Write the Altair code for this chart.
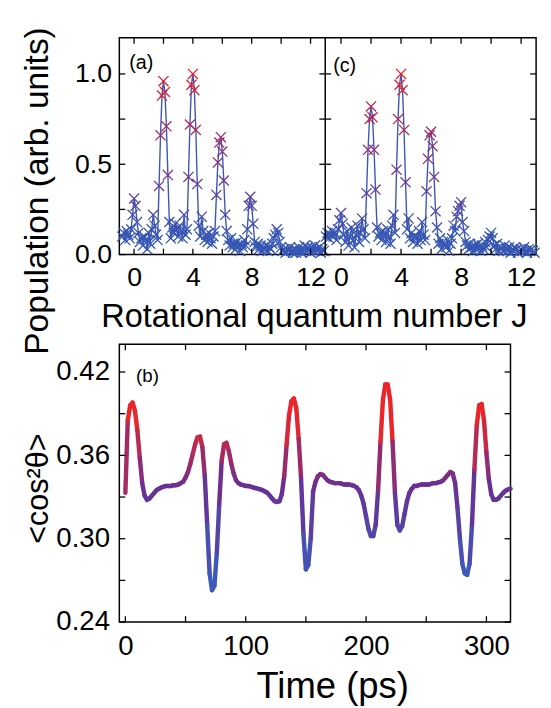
import altair as alt
import numpy as np
import pandas as pd

FONT = "Liberation Sans"

# ---------------- data ----------------
# panel (a): population vs J (sampled every 0.1 starting at J = -0.8)
J_A_START = -0.8
J_STEP = 0.1
POP_A = [
    0.10, 0.12, 0.08, 0.13, 0.11, 0.09, 0.14,
    0.22, 0.31, 0.27, 0.18, 0.12, 0.07, 0.09, 0.05, 0.10, 0.08,
    0.03, 0.12, 0.06, 0.14, 0.22, 0.16, 0.11, 0.08, 0.38, 0.66,
    0.88, 0.96, 0.90, 0.71, 0.44, 0.18, 0.09, 0.15, 0.12, 0.17,
    0.14, 0.10, 0.16, 0.13, 0.09, 0.22, 0.11, 0.14, 0.43, 0.72,
    0.94, 1.00, 0.91, 0.69, 0.39, 0.16, 0.10, 0.21, 0.13, 0.08,
    0.11, 0.07, 0.12, 0.09, 0.06, 0.10, 0.13, 0.33, 0.51, 0.62,
    0.65, 0.57, 0.41, 0.22, 0.13, 0.08, 0.05, 0.09, 0.04, 0.06,
    0.03, 0.07, 0.05, 0.02, 0.06, 0.04, 0.08, 0.05, 0.14, 0.27,
    0.32, 0.27, 0.17, 0.07, 0.04, 0.06, 0.03, 0.05, 0.02, 0.04,
    0.03, 0.05, 0.02, 0.04, 0.03, 0.06, 0.09, 0.11, 0.14, 0.12,
    0.07, 0.04, 0.02, 0.03, 0.01, 0.03, 0.02, 0.04, 0.02, 0.01,
    0.03, 0.01, 0.02, 0.04, 0.02, 0.01, 0.03, 0.05, 0.02, 0.04,
    0.03, 0.01, 0.04, 0.02, 0.05, 0.03, 0.02, 0.04, 0.01, 0.03, 0.02,
]
# panel (c): population vs J (sampled every 0.1 starting at J = -1.0)
J_C_START = -1.0
POP_C = [
    0.10, 0.12, 0.09, 0.11, 0.13, 0.10, 0.12, 0.08, 0.14, 0.19,
    0.23, 0.17, 0.11, 0.07, 0.13, 0.05, 0.10, 0.15, 0.08, 0.04,
    0.11, 0.16, 0.07, 0.12, 0.20, 0.14, 0.09, 0.34, 0.58, 0.75,
    0.82, 0.76, 0.58, 0.36, 0.15, 0.10, 0.12, 0.08, 0.13, 0.11,
    0.07, 0.14, 0.10, 0.06, 0.16, 0.22, 0.12, 0.47, 0.75, 0.94,
    1.00, 0.91, 0.69, 0.40, 0.14, 0.20, 0.09, 0.12, 0.07, 0.10,
    0.10, 0.06, 0.13, 0.08, 0.18, 0.11, 0.08, 0.35, 0.53, 0.66,
    0.68, 0.60, 0.43, 0.24, 0.15, 0.06, 0.09, 0.03, 0.07, 0.05,
    0.04, 0.08, 0.02, 0.06, 0.09, 0.16, 0.13, 0.21, 0.24, 0.27,
    0.29, 0.18, 0.13, 0.07, 0.05, 0.03, 0.06, 0.04, 0.02, 0.05,
    0.03, 0.06, 0.04, 0.02, 0.05, 0.03, 0.07, 0.04, 0.08, 0.10,
    0.12, 0.09, 0.05, 0.03, 0.06, 0.02, 0.04, 0.03, 0.02, 0.05,
    0.03, 0.02, 0.04, 0.01, 0.03, 0.02, 0.04, 0.03, 0.01, 0.02,
    0.03, 0.02, 0.04, 0.02, 0.01, 0.03, 0.02, 0.03, 0.02, 0.01,
]
# panel (b): <cos^2 theta> vs time, every 2 ps from 0 to 320 ps
T_STEP = 2
COS2 = [
    0.333, 0.385, 0.396, 0.398, 0.392, 0.378, 0.358, 0.340, 0.331, 0.328,
    0.329, 0.331, 0.333, 0.335, 0.336, 0.337, 0.3375, 0.338, 0.338, 0.338,
    0.3385, 0.3385, 0.339, 0.340, 0.341, 0.344, 0.348, 0.354, 0.361, 0.368,
    0.373, 0.3735, 0.366, 0.345, 0.310, 0.275, 0.263, 0.266, 0.290, 0.325,
    0.356, 0.368, 0.369, 0.363, 0.354, 0.347, 0.342, 0.340, 0.339, 0.3385,
    0.338, 0.338, 0.3375, 0.337, 0.3365, 0.336, 0.3355, 0.335, 0.334, 0.333,
    0.331, 0.329, 0.327, 0.3265, 0.327, 0.332, 0.345, 0.368, 0.389, 0.399,
    0.401, 0.394, 0.372, 0.343, 0.303, 0.278, 0.281, 0.300, 0.334, 0.341,
    0.345, 0.3465, 0.346, 0.344, 0.342, 0.341, 0.3405, 0.340, 0.340, 0.340,
    0.3395, 0.339, 0.339, 0.339, 0.3385, 0.338, 0.337, 0.335, 0.331, 0.325,
    0.316, 0.307, 0.302, 0.302, 0.310, 0.335, 0.370, 0.400, 0.411, 0.411,
    0.400, 0.370, 0.333, 0.310, 0.306, 0.309, 0.318, 0.327, 0.333, 0.336,
    0.338, 0.338, 0.3385, 0.339, 0.339, 0.339, 0.339, 0.3395, 0.340, 0.340,
    0.3405, 0.341, 0.342, 0.344, 0.346, 0.348, 0.347, 0.340, 0.322, 0.300,
    0.282, 0.275, 0.274, 0.282, 0.310, 0.350, 0.382, 0.396, 0.397, 0.385,
    0.362, 0.343, 0.332, 0.328, 0.328, 0.329, 0.331, 0.333, 0.3345, 0.3355,
    0.336,
]

J_TICKS = [0, 2, 4, 6, 8, 10, 12]
J_LABELS = [0, 4, 8, 12]
POP_TICKS = [0, 0.25, 0.5, 0.75, 1.0]
POP_LABELS = [0.0, 0.5, 1.0]
T_TICKS = [0, 50, 100, 150, 200, 250, 300]
T_LABELS = [0, 100, 200, 300]
C_TICKS = [0.24, 0.27, 0.30, 0.33, 0.36, 0.39, 0.42]
C_LABELS = [0.24, 0.30, 0.36, 0.42]

# ---------------- layout ----------------
TOP_H = 220
W_A = 209
W_C = 214
TOP_W = W_A + W_C
BOT_W = 397
BOT_H = 282
TICK = 6
XSHAPE = "M-1,-1L1,1M-1,1L1,-1"

pop_scale = alt.Scale(domain=[0.12, 0.4, 1.0],
                      range=["#3656b4", "#6e3896", "#ec1c24"],
                      interpolate="rgb", clamp=True)
cos_scale = alt.Scale(domain=[0.275, 0.338, 0.385],
                      range=["#3d5bbb", "#6a2f93", "#e8262b"],
                      interpolate="rgb", clamp=True)
TICK_STYLE = dict(color="black", strokeWidth=1.3)


def x_ticks(field, ticks, xenc, h):
    xt = pd.DataFrame({field: ticks})
    return [
        alt.Chart(xt).mark_rule(**TICK_STYLE).encode(x=xenc, y=alt.value(h), y2=alt.value(h - TICK)),
        alt.Chart(xt).mark_rule(**TICK_STYLE).encode(x=xenc, y=alt.value(0), y2=alt.value(TICK)),
    ]


def y_ticks(field, ticks, yenc, x0, x1):
    yt = pd.DataFrame({field: ticks})
    out = []
    for a, b in ((x0, x0 + TICK), (x1 - TICK, x1)):
        out.append(alt.Chart(yt).mark_rule(**TICK_STYLE).encode(
            y=yenc, x=alt.value(a), x2=alt.value(b)))
    return out


def label(text, x, y, size=20):
    return alt.Chart(pd.DataFrame({"k": [0]})).mark_text(
        text=text, align="left", baseline="alphabetic", fontSize=size,
        font=FONT, color="black").encode(x=alt.value(x), y=alt.value(y))


yenc_top = alt.Y("pop:Q", scale=alt.Scale(domain=[0, 1.2], nice=False, zero=False),
                 axis=alt.Axis(values=POP_LABELS, format=".1f", labelPadding=8, labelFontSize=27,
                               title="Population (arb. units)", titleFontSize=34, titleAngle=270,
                               titleX=-73, titleY=155, titleBaseline="alphabetic",
                               titleAlign="center"))


def spectrum(start, pop, xdom, xrange, xaxis, lab, lx, ly):
    J = np.round(start + J_STEP * np.arange(len(pop)), 2)
    df = pd.DataFrame({"J": J, "pop": pop})
    xenc = alt.X("J:Q", scale=alt.Scale(domain=xdom, range=xrange, nice=False, zero=False),
                 axis=xaxis)
    line = alt.Chart(df).mark_line(color="#3a58b4", strokeWidth=1.4).encode(x=xenc, y=yenc_top)
    pts = alt.Chart(df).mark_point(shape=XSHAPE, filled=False, size=105,
                                   strokeWidth=1.3, opacity=1).encode(
        x=xenc, y=yenc_top, color=alt.Color("pop:Q", scale=pop_scale, legend=None))
    layers = [line, pts] + x_ticks("J", J_TICKS, xenc, TOP_H)
    layers += y_ticks("pop", POP_TICKS, yenc_top, xrange[0], xrange[1])
    layers.append(label(lab, lx, ly))
    return alt.layer(*layers)


axis_a_x = alt.Axis(values=J_LABELS, orient="bottom", labelPadding=10, labelFontSize=27,
                    labelFlush=False, title="Rotational quantum number J", titleFontSize=33,
                    titleX=197.5, titleY=73, titleBaseline="alphabetic", titleAlign="center")
axis_c_x = alt.Axis(values=J_LABELS, orient="bottom", labelPadding=10, labelFontSize=27,
                    labelFlush=False, title=None)

panel_a = spectrum(J_A_START, POP_A, [-1, 13], [0, W_A], axis_a_x, "(a)", 10, 32)
panel_c = spectrum(J_C_START, POP_C, [-1.05, 13], [W_A, TOP_W], axis_c_x, "(c)", W_A + 8, 35)

anchor = alt.Chart(pd.DataFrame({"k": [0]})).mark_rule(opacity=0, strokeWidth=1).encode(
    x=alt.value(-111.5), x2=alt.value(-110.5), y=alt.value(-23.5))
divider = alt.Chart(pd.DataFrame({"k": [0]})).mark_rule(color="black", strokeWidth=1.5).encode(
    x=alt.value(W_A), y=alt.value(0), y2=alt.value(TOP_H))

top = alt.layer(panel_a, panel_c, divider, anchor).resolve_scale(
    x="independent").properties(width=TOP_W, height=TOP_H)

# bottom panel
t = np.arange(len(COS2)) * T_STEP
v = np.array(COS2)
seg = pd.DataFrame({"t": t[:-1], "v": v[:-1], "t2": t[1:], "v2": v[1:],
                    "c": (v[:-1] + v[1:]) / 2})
bx = alt.X("t:Q", scale=alt.Scale(domain=[-5, 320], nice=False, zero=False),
           axis=alt.Axis(values=T_LABELS, labelPadding=11, labelFontSize=28, labelFlush=False,
                         title="Time (ps)", titleFontSize=37, titleX=216, titleY=77,
                         titleBaseline="alphabetic", titleAlign="center"))
by = alt.Y("v:Q", scale=alt.Scale(domain=[0.24, 0.44], nice=False, zero=False),
           axis=alt.Axis(values=C_LABELS, format=".2f", labelPadding=10, labelFontSize=28,
                         title="<cos²θ>", titleFontSize=31, titleAngle=270,
                         titleX=-73, titleY=146, titleBaseline="alphabetic", titleAlign="center"))
curve = alt.Chart(seg).mark_rule(strokeWidth=4.5, strokeCap="round").encode(
    x=bx, y=by, x2="t2:Q", y2="v2:Q",
    color=alt.Color("c:Q", scale=cos_scale, legend=None))
bottom = alt.layer(
    curve,
    *x_ticks("t", T_TICKS, bx, BOT_H),
    *y_ticks("v", C_TICKS, by, 0, BOT_W),
    label("(b)", 17, 38, 19),
).properties(width=BOT_W, height=BOT_H)

chart = alt.vconcat(top, bottom, spacing=91, bounds="flush").resolve_scale(
    x="independent", y="independent", color="independent"
).properties(padding=0).configure_axis(
    grid=False, domain=False, ticks=False, labelFont=FONT, titleFont=FONT,
    labelColor="black", titleColor="black", titleFontWeight="normal"
).configure_view(stroke="black", strokeWidth=1.5)

chart.save("out.html", embed_options={"renderer": "svg", "actions": False})
